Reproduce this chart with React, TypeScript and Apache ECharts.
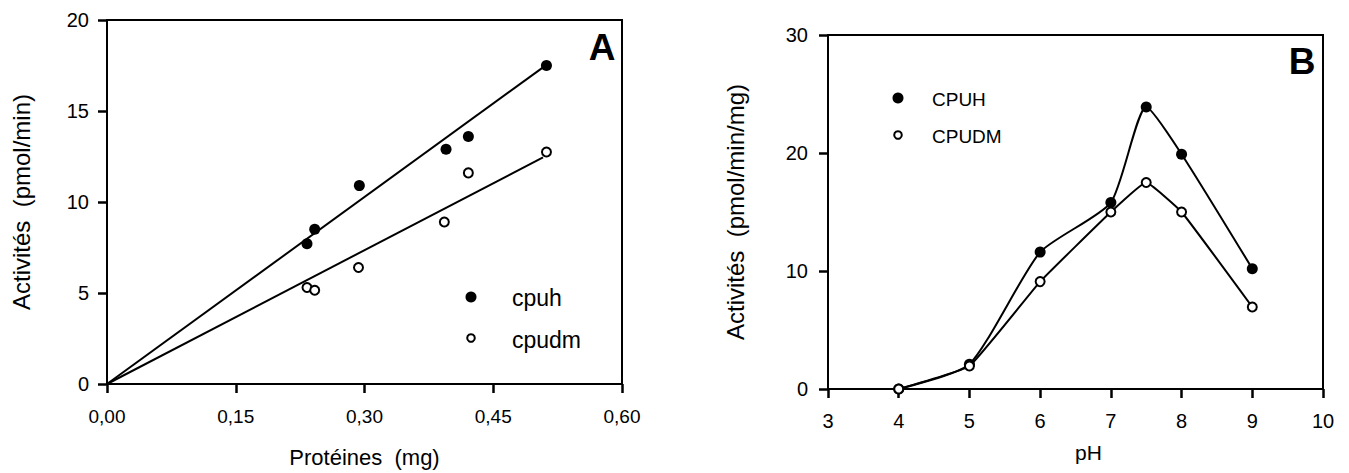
import React, { useEffect, useRef } from "react";
import * as echarts from "echarts";

// Panel A data
const proteinsCpuh = [0.233, 0.242, 0.294, 0.395, 0.421, 0.512];
const activityCpuh = [7.7, 8.5, 10.9, 12.9, 13.6, 17.5];
const proteinsCpudm = [0.233, 0.242, 0.293, 0.393, 0.421, 0.512];
const activityCpudm = [5.3, 5.15, 6.4, 8.9, 11.6, 12.75];
const fitX = [0, 0.508];
const fitCpuh = [0, 17.4];
const fitCpudm = [0, 12.45];

// Panel B data
const phValues = [4, 5, 6, 7, 7.5, 8, 9];
const cpuhB = [0, 2.1, 11.6, 15.8, 23.9, 19.9, 10.2];
const cpudmB = [0, 1.95, 9.1, 15.0, 17.5, 15.0, 6.95];

const FONT = "Liberation Sans, Arial, Helvetica, sans-serif";
const BLACK = "#000";

const zip = (a: number[], b: number[]) => a.map((v, i) => [v, b[i]]);

const mkLine = () => ({ show: true, onZero: false, lineStyle: { color: BLACK, width: 2 } });
const mkTick = () => ({ show: true, inside: false, length: 9, interval: 0, lineStyle: { color: BLACK, width: 2.5 } });

export default function App() {
  const ref = useRef<HTMLDivElement>(null);
  useEffect(() => {
    const chart = echarts.init(ref.current!, null, { renderer: "svg" });
    const filled = { color: BLACK, opacity: 1 };
    const hollow = { color: "#fff", borderColor: BLACK, borderWidth: 2, opacity: 1 };
    const option: any = {
      animation: false,
      backgroundColor: "#fff",
      grid: [
        { left: 107, top: 20, width: 515, height: 364, show: true, borderColor: BLACK, borderWidth: 2, backgroundColor: "transparent", z: 0 },
        { left: 828, top: 35, width: 495, height: 354, show: true, borderColor: BLACK, borderWidth: 2, backgroundColor: "transparent", z: 0 },
      ],
      xAxis: [
        {
          gridIndex: 0, type: "value", min: 0, max: 0.6, interval: 0.15,
          axisLine: mkLine(), axisTick: mkTick(), splitLine: { show: false },
          axisLabel: { color: BLACK, fontFamily: FONT, fontSize: 19, margin: 23, formatter: (v: number) => v.toFixed(2).replace(".", ",") },
          name: "Protéines  (mg)", nameLocation: "middle", nameGap: 62,
          nameTextStyle: { color: BLACK, fontFamily: FONT, fontSize: 22 },
        },
        {
          gridIndex: 1, type: "value", min: 3, max: 10, interval: 1,
          axisLine: mkLine(), axisTick: mkTick(), splitLine: { show: false },
          axisLabel: { color: BLACK, fontFamily: FONT, fontSize: 20, margin: 22 },
          name: "pH", nameLocation: "middle", nameGap: 53,
          nameTextStyle: { color: BLACK, fontFamily: FONT, fontSize: 21, padding: [0, 0, 0, 26] },
        },
      ],
      yAxis: [
        {
          gridIndex: 0, type: "value", min: 0, max: 20, interval: 5,
          axisLine: mkLine(), axisTick: mkTick(), splitLine: { show: false },
          axisLabel: { color: BLACK, fontFamily: FONT, fontSize: 20, margin: 18 },
          name: "Activités  (pmol/min)", nameLocation: "middle", nameGap: 74,
          nameTextStyle: { color: BLACK, fontFamily: FONT, fontSize: 24 },
        },
        {
          gridIndex: 1, type: "value", min: 0, max: 30, interval: 10,
          axisLine: mkLine(), axisTick: mkTick(), splitLine: { show: false },
          axisLabel: { color: BLACK, fontFamily: FONT, fontSize: 20, margin: 20 },
          name: "Activités  (pmol/min/mg)", nameLocation: "middle", nameGap: 81,
          nameTextStyle: { color: BLACK, fontFamily: FONT, fontSize: 24 },
        },
      ],
      series: [
        {
          name: "fit cpuh", type: "line", xAxisIndex: 0, yAxisIndex: 0, data: zip(fitX, fitCpuh),
          showSymbol: false, lineStyle: { color: BLACK, width: 2 }, z: 2,
        },
        {
          name: "fit cpudm", type: "line", xAxisIndex: 0, yAxisIndex: 0, data: zip(fitX, fitCpudm),
          showSymbol: false, lineStyle: { color: BLACK, width: 2 }, z: 2,
        },
        {
          name: "cpuh", type: "scatter", xAxisIndex: 0, yAxisIndex: 0, data: zip(proteinsCpuh, activityCpuh),
          symbol: "circle", symbolSize: 11, itemStyle: filled, z: 3,
        },
        {
          name: "cpudm", type: "scatter", xAxisIndex: 0, yAxisIndex: 0, data: zip(proteinsCpudm, activityCpudm),
          symbol: "circle", symbolSize: 9, itemStyle: hollow, z: 3,
        },
        {
          name: "CPUH", type: "line", xAxisIndex: 1, yAxisIndex: 1, data: zip(phValues, cpuhB),
          smooth: 0.2, symbol: "circle", symbolSize: 11, itemStyle: filled,
          lineStyle: { color: BLACK, width: 2 }, z: 3,
        },
        {
          name: "CPUDM", type: "line", xAxisIndex: 1, yAxisIndex: 1, data: zip(phValues, cpudmB),
          smooth: 0.1, symbol: "circle", symbolSize: 9, itemStyle: hollow,
          lineStyle: { color: BLACK, width: 2 }, z: 3,
        },
      ],
      graphic: [
        { type: "text", x: 602, y: 47, style: { text: "A", fontFamily: FONT, fontSize: 37, fontWeight: "bold", fill: BLACK, align: "center", verticalAlign: "middle" } },
        { type: "text", x: 1302, y: 61, style: { text: "B", fontFamily: FONT, fontSize: 37, fontWeight: "bold", fill: BLACK, align: "center", verticalAlign: "middle" } },
        { type: "circle", shape: { cx: 471, cy: 297, r: 5.5 }, style: { fill: BLACK } },
        { type: "text", x: 512, y: 298, style: { text: "cpuh", fontFamily: FONT, fontSize: 23, fill: BLACK, verticalAlign: "middle" } },
        { type: "circle", shape: { cx: 471, cy: 338, r: 3.8 }, style: { fill: "#fff", stroke: BLACK, lineWidth: 2 } },
        { type: "text", x: 512, y: 340, style: { text: "cpudm", fontFamily: FONT, fontSize: 23, fill: BLACK, verticalAlign: "middle" } },
        { type: "circle", shape: { cx: 898, cy: 98, r: 5.5 }, style: { fill: BLACK } },
        { type: "text", x: 932, y: 99, style: { text: "CPUH", fontFamily: FONT, fontSize: 19, fill: BLACK, verticalAlign: "middle" } },
        { type: "circle", shape: { cx: 898, cy: 135, r: 3.8 }, style: { fill: "#fff", stroke: BLACK, lineWidth: 2 } },
        { type: "text", x: 932, y: 136, style: { text: "CPUDM", fontFamily: FONT, fontSize: 19, fill: BLACK, verticalAlign: "middle" } },
      ],
    };
    chart.setOption(option);
    return () => chart.dispose();
  }, []);
  return <div ref={ref} style={{ position: "absolute", left: 0, top: 0, width: 1349, height: 473 }} />;
}
